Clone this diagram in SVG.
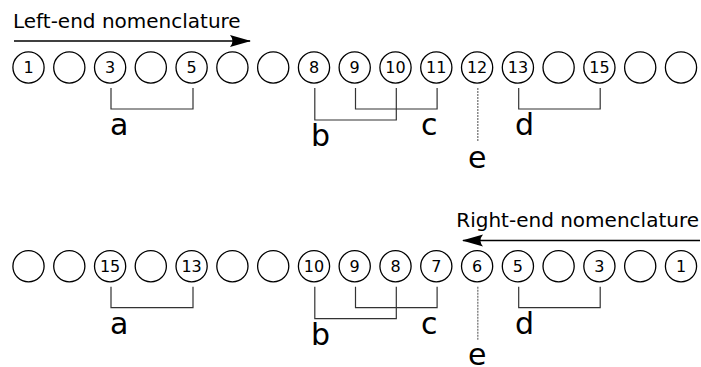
<svg xmlns="http://www.w3.org/2000/svg" width="701" height="367" viewBox="0 0 701 367">
<style>
.n{fill:#fff;stroke:#000;stroke-width:1.3}
.d{font-family:"DejaVu Sans",sans-serif;font-size:16px;text-anchor:middle;fill:#000}
.t{font-family:"DejaVu Sans",sans-serif;font-size:20px;fill:#000}
.l{font-family:"DejaVu Sans",sans-serif;font-size:30px;fill:#000}
.b{fill:none;stroke:#333;stroke-width:1.2}
.e{fill:none;stroke:#777;stroke-width:1.3;stroke-dasharray:2,1}
.a{fill:none;stroke:#000;stroke-width:1.6}
</style>
<defs>
<marker id="ah" viewBox="0 0 22 13" refX="20" refY="6.5" markerWidth="22" markerHeight="13" markerUnits="userSpaceOnUse" orient="auto">
<path d="M0,0.5 L21,6.5 L0,12.5 Q5,6.5 0,0.5 Z" fill="#000"/>
</marker>
</defs>
<g id="row1">
<g id="title1"><text class="t" x="13" y="28">Left-end nomenclature</text></g>
<g id="r1n1"><circle class="n" cx="28.5" cy="67.5" r="15.6"/><text class="d" x="28.5" y="73.2">1</text></g>
<g id="r1n2"><circle class="n" cx="69.3" cy="67.5" r="15.6"/></g>
<g id="r1n3"><circle class="n" cx="110.1" cy="67.5" r="15.6"/><text class="d" x="110.1" y="73.2">3</text></g>
<g id="r1n4"><circle class="n" cx="150.8" cy="67.5" r="15.6"/></g>
<g id="r1n5"><circle class="n" cx="191.6" cy="67.5" r="15.6"/><text class="d" x="191.6" y="73.2">5</text></g>
<g id="r1n6"><circle class="n" cx="232.4" cy="67.5" r="15.6"/></g>
<g id="r1n7"><circle class="n" cx="273.2" cy="67.5" r="15.6"/></g>
<g id="r1n8"><circle class="n" cx="314.0" cy="67.5" r="15.6"/><text class="d" x="314.0" y="73.2">8</text></g>
<g id="r1n9"><circle class="n" cx="354.7" cy="67.5" r="15.6"/><text class="d" x="354.7" y="73.2">9</text></g>
<g id="r1n10"><circle class="n" cx="395.5" cy="67.5" r="15.6"/><text class="d" x="395.5" y="73.2">10</text></g>
<g id="r1n11"><circle class="n" cx="436.3" cy="67.5" r="15.6"/><text class="d" x="436.3" y="73.2">11</text></g>
<g id="r1n12"><circle class="n" cx="477.1" cy="67.5" r="15.6"/><text class="d" x="477.1" y="73.2">12</text></g>
<g id="r1n13"><circle class="n" cx="517.9" cy="67.5" r="15.6"/><text class="d" x="517.9" y="73.2">13</text></g>
<g id="r1n14"><circle class="n" cx="558.6" cy="67.5" r="15.6"/></g>
<g id="r1n15"><circle class="n" cx="599.4" cy="67.5" r="15.6"/><text class="d" x="599.4" y="73.2">15</text></g>
<g id="r1n16"><circle class="n" cx="640.2" cy="67.5" r="15.6"/></g>
<g id="r1n17"><circle class="n" cx="681.0" cy="67.5" r="15.6"/></g>
<g id="r1labels">
<text class="l" x="110" y="135">a</text>
<text class="l" x="311" y="146">b</text>
<text class="l" x="421" y="135">c</text>
<text class="l" x="515" y="135">d</text>
<text class="l" x="468" y="168">e</text>
</g>
</g>
<g id="row2">
<g id="title2"><text class="t" x="699" y="227" text-anchor="end">Right-end nomenclature</text></g>
<g id="r2n1"><circle class="n" cx="28.5" cy="266.2" r="15.6"/></g>
<g id="r2n2"><circle class="n" cx="69.3" cy="266.2" r="15.6"/></g>
<g id="r2n3"><circle class="n" cx="110.1" cy="266.2" r="15.6"/><text class="d" x="110.1" y="271.9">15</text></g>
<g id="r2n4"><circle class="n" cx="150.8" cy="266.2" r="15.6"/></g>
<g id="r2n5"><circle class="n" cx="191.6" cy="266.2" r="15.6"/><text class="d" x="191.6" y="271.9">13</text></g>
<g id="r2n6"><circle class="n" cx="232.4" cy="266.2" r="15.6"/></g>
<g id="r2n7"><circle class="n" cx="273.2" cy="266.2" r="15.6"/></g>
<g id="r2n8"><circle class="n" cx="314.0" cy="266.2" r="15.6"/><text class="d" x="314.0" y="271.9">10</text></g>
<g id="r2n9"><circle class="n" cx="354.7" cy="266.2" r="15.6"/><text class="d" x="354.7" y="271.9">9</text></g>
<g id="r2n10"><circle class="n" cx="395.5" cy="266.2" r="15.6"/><text class="d" x="395.5" y="271.9">8</text></g>
<g id="r2n11"><circle class="n" cx="436.3" cy="266.2" r="15.6"/><text class="d" x="436.3" y="271.9">7</text></g>
<g id="r2n12"><circle class="n" cx="477.1" cy="266.2" r="15.6"/><text class="d" x="477.1" y="271.9">6</text></g>
<g id="r2n13"><circle class="n" cx="517.9" cy="266.2" r="15.6"/><text class="d" x="517.9" y="271.9">5</text></g>
<g id="r2n14"><circle class="n" cx="558.6" cy="266.2" r="15.6"/></g>
<g id="r2n15"><circle class="n" cx="599.4" cy="266.2" r="15.6"/><text class="d" x="599.4" y="271.9">3</text></g>
<g id="r2n16"><circle class="n" cx="640.2" cy="266.2" r="15.6"/></g>
<g id="r2n17"><circle class="n" cx="681.0" cy="266.2" r="15.6"/><text class="d" x="681.0" y="271.9">1</text></g>
<g id="r2labels">
<text class="l" x="110" y="333.7">a</text>
<text class="l" x="311" y="344.7">b</text>
<text class="l" x="421" y="333.7">c</text>
<text class="l" x="515" y="333.7">d</text>
<text class="l" x="468" y="365">e</text>
</g>
</g>
<g id="connectors">
<line class="a" x1="14" y1="41" x2="250" y2="41" marker-end="url(#ah)"/>
<path class="b" d="M111,88 V109 H193 V88"/>
<path class="b" d="M314.8,88 V120 H396.3 V88"/>
<path class="b" d="M355.5,88 V109 H437.1 V88"/>
<path class="b" d="M518.7,88 V109 H600.2 V88"/>
<line class="e" x1="477.8" y1="88" x2="477.8" y2="141"/>
<line class="a" x1="700" y1="240.5" x2="463" y2="240.5" marker-end="url(#ah)"/>
<path class="b" d="M111,286.7 V307.7 H193 V286.7"/>
<path class="b" d="M314.8,286.7 V318.7 H396.3 V286.7"/>
<path class="b" d="M355.5,286.7 V307.7 H437.1 V286.7"/>
<path class="b" d="M518.7,286.7 V307.7 H600.2 V286.7"/>
<line class="e" x1="477.8" y1="286.7" x2="477.8" y2="339.7"/>
</g>
</svg>
